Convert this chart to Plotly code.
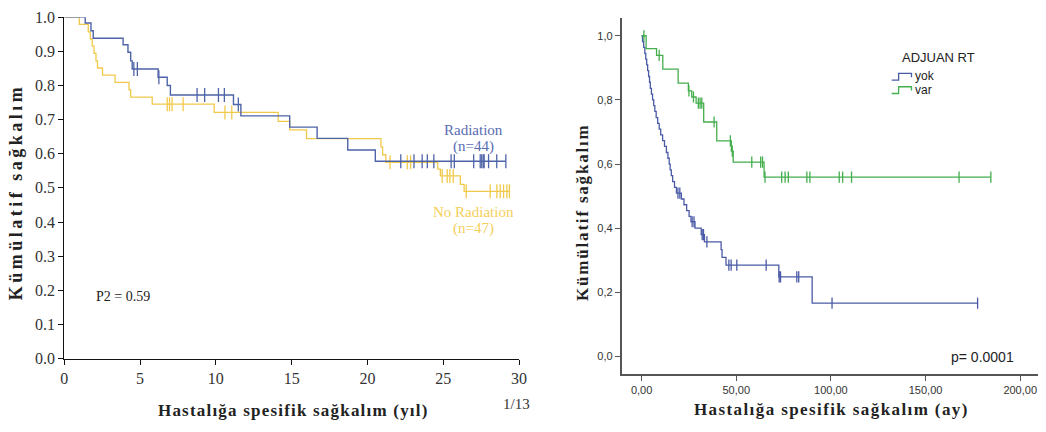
import numpy as np
import plotly.graph_objects as go

# ---- Left panel: disease-specific survival (years), Radiation vs No Radiation ----
rad_times = [1.38, 1.76, 1.91, 3.88, 4.20, 4.38, 4.48, 6.19, 6.79, 7.00,
             11.16, 11.65, 14.87, 16.68, 18.70, 20.52]
rad_surv = [0.983, 0.960, 0.938, 0.919, 0.897, 0.872, 0.848, 0.824, 0.800, 0.772,
            0.744, 0.711, 0.678, 0.645, 0.611, 0.578]
rad_censor = [4.59, 4.82, 6.24, 8.76, 9.26, 10.17, 10.56, 11.48, 22.20, 23.07, 23.61,
              23.95, 24.38, 25.52, 25.73, 27.01, 27.44, 27.54, 27.64, 27.70, 27.99,
              28.53, 29.13]

norad_times = [0.99, 1.58, 1.72, 1.84, 1.96, 2.09, 2.19, 2.52, 3.35, 4.27, 4.38, 5.80,
               9.89, 14.11, 14.87, 15.98, 20.89, 21.0, 21.21, 24.64, 24.81, 26.13, 26.38]
norad_surv = [0.979, 0.957, 0.936, 0.915, 0.894, 0.872, 0.851, 0.830, 0.809, 0.787,
              0.766, 0.745, 0.721, 0.695, 0.670, 0.644, 0.620, 0.597, 0.575, 0.555,
              0.535, 0.510, 0.490]
norad_censor = [6.79, 6.94, 7.11, 7.84, 10.60, 11.05, 21.49, 22.63, 22.85, 24.93, 25.26,
                25.44, 25.66, 26.52, 28.10, 28.54, 28.76, 28.98, 29.20, 29.37]

left_xticks = [0, 5, 10, 15, 20, 25, 30]
left_yticks = [0.0, 0.1, 0.2, 0.3, 0.4, 0.5, 0.6, 0.7, 0.8, 0.9, 1.0]
left_yticklabels = ["0.0", "0.1", "0.2", "0.3", "0.4", "0.5", "0.6", "0.7", "0.8", "0.9", "1.0"]

# ---- Right panel: disease-specific survival (months) by adjuvant RT ----
yok_times = [0.5, 1.1, 1.7, 2.2, 2.7, 3.2, 3.7, 4.2, 4.6, 5.2, 5.8, 6.4, 7.0, 7.7,
             8.5, 9.3, 10.1, 11.1, 12.1, 13.1, 13.9, 14.6, 15.1, 15.7, 16.4, 17.4,
             18.4, 21.0, 22.4, 23.8, 25.1, 26.1, 28.2, 31.5, 33.2, 42.0, 42.5, 44.6,
             72.5, 90.1]
yok_surv = [0.982, 0.964, 0.945, 0.927, 0.909, 0.891, 0.873, 0.855, 0.836, 0.818,
            0.800, 0.782, 0.764, 0.745, 0.727, 0.709, 0.691, 0.673, 0.655, 0.636,
            0.618, 0.600, 0.582, 0.564, 0.545, 0.527, 0.509, 0.491, 0.473, 0.455,
            0.437, 0.420, 0.400, 0.380, 0.357, 0.333, 0.309, 0.285, 0.248, 0.166]
yok_censor = [19.2, 20.2, 26.7, 27.7, 32.0, 32.7, 34.5, 46.1, 47.3, 50.3, 65.8, 72.7,
              73.4, 82.0, 83.0, 100.6, 177.5]

var_times = [2.4, 7.9, 11.2, 19.3, 24.7, 26.5, 28.8, 32.8, 39.7, 47.4, 48.4, 64.7]
var_surv = [0.960, 0.939, 0.896, 0.852, 0.828, 0.809, 0.790, 0.731, 0.672, 0.640,
            0.606, 0.559]
var_censor = [1.2, 9.3, 25.0, 27.4, 30.0, 30.9, 31.8, 38.3, 46.9, 47.9, 58.2, 62.9,
              63.9, 65.2, 74.0, 75.8, 77.5, 87.3, 88.9, 104.4, 106.2, 110.9, 167.7,
              184.5]

right_xticks = [0, 50, 100, 150, 200]
right_xticklabels = ["0,00", "50,00", "100,00", "150,00", "200,00"]
right_yticks = [0.0, 0.2, 0.4, 0.6, 0.8, 1.0]
right_yticklabels = ["0,0", "0,2", "0,4", "0,6", "0,8", "1,0"]

legend_title = "ADJUAN RT"
legend_names = ["yok", "var"]

BLUE_L = "#4f63a8"
YELLOW_L = "#f1c94a"
BLUE_R = "#4a5aa6"
GREEN_R = "#43ae4c"


def km_xy(times, surv, end):
    x = [0.0] + list(times) + [end]
    y = [1.0] + list(surv) + [surv[-1]]
    return x, y


def level_at(times, surv, t):
    idx = np.searchsorted(np.asarray(times), np.asarray(t), side="right")
    levels = np.concatenate([[1.0], surv])
    return levels[idx]


def add_curve(fig, times, surv, censor, color, xa, ya, width, msize):
    x, y = km_xy(times, surv, max(censor))
    fig.add_trace(go.Scatter(x=x, y=y, mode="lines", line=dict(color=color, width=width,
                             shape="hv"), xaxis=xa, yaxis=ya, showlegend=False,
                             hoverinfo="skip"))
    fig.add_trace(go.Scatter(x=censor, y=level_at(times, surv, censor), mode="markers",
                             marker=dict(symbol="line-ns", size=msize,
                                         line=dict(color=color, width=1.3)),
                             xaxis=xa, yaxis=ya, showlegend=False, hoverinfo="skip"))


fig = go.Figure()
add_curve(fig, norad_times, norad_surv, norad_censor, YELLOW_L, "x", "y", 1.3, 10)
add_curve(fig, rad_times, rad_surv, rad_censor, BLUE_L, "x", "y", 1.4, 10)
add_curve(fig, yok_times, yok_surv, yok_censor, BLUE_R, "x2", "y2", 1.3, 8)
add_curve(fig, var_times, var_surv, var_censor, GREEN_R, "x2", "y2", 1.3, 8)

W, H = 1046, 432


def px(xp):
    return xp / W


def py(yp):
    return (H - yp) / H


serif = "Liberation Serif"
sans = "Liberation Sans"

fig.update_layout(
    width=W, height=H, margin=dict(l=0, r=0, t=0, b=0),
    paper_bgcolor="white", plot_bgcolor="white", showlegend=False,
    xaxis=dict(domain=[px(61), px(521)], range=[0, 30], tickvals=left_xticks,
               showline=True, linecolor="#111", linewidth=1, ticks="outside",
               ticklen=5, tickcolor="#111", showgrid=False, zeroline=False,
               tickfont=dict(family=serif, size=16, color="#333"), anchor="y"),
    yaxis=dict(domain=[py(365), py(9.5)], range=[0, 1], tickvals=left_yticks,
               ticktext=left_yticklabels, showline=True, linecolor="#111", linewidth=1,
               ticks="outside", ticklen=5, tickcolor="#111", showgrid=False,
               zeroline=False, tickfont=dict(family=serif, size=16, color="#333"),
               anchor="x"),
    xaxis2=dict(domain=[px(625), 1.0], range=[-10.44, 209.4], tickvals=right_xticks,
                ticktext=right_xticklabels, showline=True, linecolor="#555",
                linewidth=2, ticks="outside", ticklen=5, tickcolor="#555",
                showgrid=False, zeroline=False,
                tickfont=dict(family=sans, size=11, color="#333"), anchor="y2"),
    yaxis2=dict(domain=[py(381), py(10.2)], range=[-0.0548, 1.056],
                tickvals=right_yticks, ticktext=right_yticklabels, showline=True,
                linecolor="#555", linewidth=2, ticks="outside", ticklen=5,
                tickcolor="#555", showgrid=False, zeroline=False,
                tickfont=dict(family=sans, size=11, color="#333"), anchor="x2"),
)


def spaced(text, sp):
    return f'<span style="letter-spacing:{sp}px"><b>{text}</b></span>'


annotations = [
    dict(text=spaced("Kümülatif sağkalım", 3.5), x=px(13), y=py(191), textangle=-90,
         font=dict(family=serif, size=18, color="#222")),
    dict(text=spaced("Hastalığa spesifik sağkalım (yıl)", 1.2), x=px(293), y=py(419),
         font=dict(family=serif, size=17, color="#222")),
    dict(text="1/13", x=px(518), y=py(412),
         font=dict(family=serif, size=15, color="#333")),
    dict(text="P2 = 0.59", x=px(120), y=py(300),
         font=dict(family=serif, size=14, color="#222")),
    dict(text="Radiation", x=px(475), y=py(127),
         font=dict(family=serif, size=15, color="#5a6cb3")),
    dict(text="(n=44)", x=px(475), y=py(144),
         font=dict(family=serif, size=15, color="#5a6cb3")),
    dict(text="No Radiation", x=px(475), y=py(212),
         font=dict(family=serif, size=15, color="#f3cf5a")),
    dict(text="(n=47)", x=px(475), y=py(230),
         font=dict(family=serif, size=15, color="#f3cf5a")),
    dict(text=spaced("Kümülatif sağkalım", 1.8), x=px(585), y=py(213), textangle=-90,
         font=dict(family=serif, size=17, color="#222")),
    dict(text=spaced("Hastalığa spesifik sağkalım (ay)", 1.4), x=px(837), y=py(418),
         font=dict(family=serif, size=17, color="#222")),
    dict(text="p= 0.0001", x=px(990), y=py(363),
         font=dict(family=sans, size=14, color="#222")),
    dict(text=legend_title, x=px(945), y=py(52),
         font=dict(family=sans, size=13, color="#222")),
]

# legend entries for the right panel: step glyph + label
leg_x0, leg_x1 = 898.0, 918.0
leg_rows = [71.0, 85.0]
shapes = []
for name, color, yrow in zip(legend_names, [BLUE_R, GREEN_R], leg_rows):
    annotations.append(dict(text=name, x=px(leg_x1 + 2), y=py(yrow), xanchor="left",
                            font=dict(family=sans, size=12, color="#222")))
    xm = (leg_x0 + leg_x1) / 2
    path = (f"M {px(leg_x0)},{py(yrow + 4)} L {px(xm - 3)},{py(yrow + 4)} "
            f"L {px(xm - 3)},{py(yrow - 3)} L {px(leg_x1)},{py(yrow - 3)} "
            f"L {px(leg_x1)},{py(yrow + 1)}")
    shapes.append(dict(type="path", path=path, xref="paper", yref="paper",
                       line=dict(color=color, width=1.3)))

for a in annotations:
    a.setdefault("xanchor", "center")
    a.update(xref="paper", yref="paper", showarrow=False, yanchor="middle")
fig.update_layout(annotations=annotations, shapes=shapes)

fig.write_html("out.html")
